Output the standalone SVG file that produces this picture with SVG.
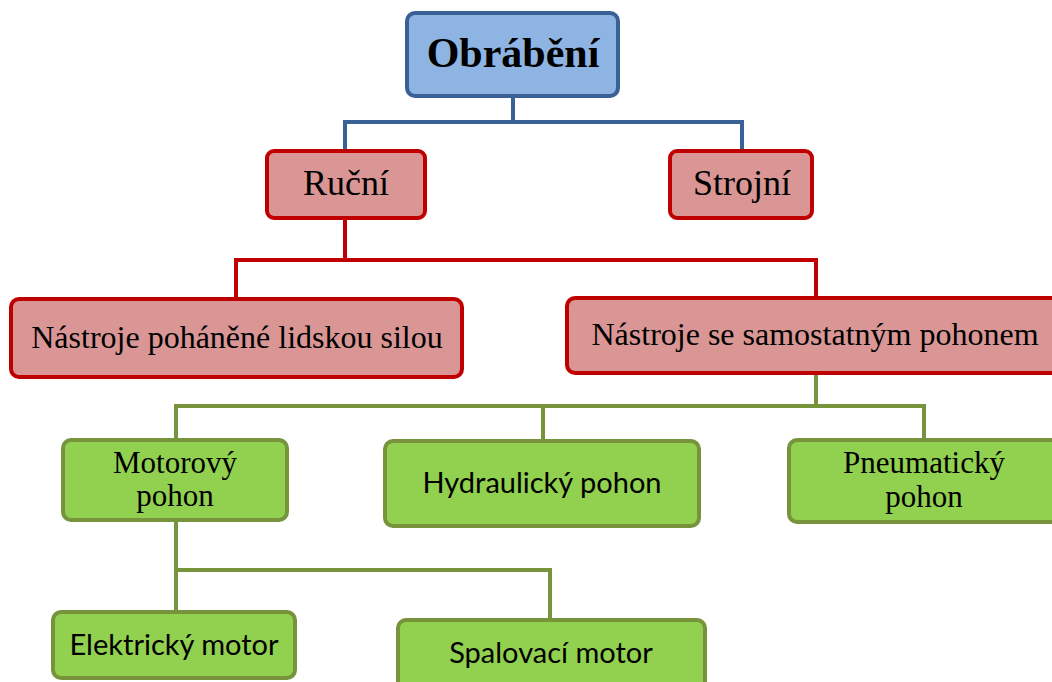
<svg xmlns="http://www.w3.org/2000/svg" width="1052" height="682" viewBox="0 0 1052 682">
<style>
.blue{fill:#8EB4E3;stroke:#3A6195;stroke-width:4}
.red{fill:#D99694;stroke:#C00000;stroke-width:4}
.green{fill:#92D050;stroke:#77933C;stroke-width:4}
.serif{font-family:"Liberation Serif","Times New Roman",serif;fill:#000;text-anchor:middle}
.sans{font-family:Lato,"Liberation Sans",sans-serif;fill:#000;text-anchor:middle}
.conn path{fill:none;stroke-width:4;stroke-linejoin:miter}
</style>
<rect width="1052" height="682" fill="#fff"/>
<g class="conn">
<path d="M513 97 V122 H345 V151 M513 122 H742 V151" stroke="#3A6195"/>
<path d="M345 218 V260 H236 V299 M345 260 H816 V298" stroke="#C00000"/>
<path d="M816 373 V406 H176 V440 M543 406 V441 M816 406 H924 V440" stroke="#77933C"/>
<path d="M176 520 V570 H550 V620 M176 570 V612" stroke="#77933C"/>
</g>
<g id="obrabeni"><rect class="blue" x="407" y="13" width="211" height="83" rx="8"/><text class="serif" x="513" y="67" font-size="42" font-weight="bold">Obrábění</text></g>
<g id="rucni"><rect class="red" x="267" y="151" width="158" height="67" rx="7"/><text class="serif" x="346" y="195" font-size="36">Ruční</text></g>
<g id="strojni"><rect class="red" x="670" y="151" width="142" height="67" rx="7"/><text class="serif" x="742" y="195" font-size="36">Strojní</text></g>
<g id="nastroje-lidska"><rect class="red" x="11" y="299" width="451" height="78" rx="8"/><text class="serif" x="237" y="348" font-size="32">Nástroje poháněné lidskou silou</text></g>
<g id="nastroje-pohon"><rect class="red" x="567" y="298" width="495" height="75" rx="8"/><text class="serif" x="815" y="345" font-size="32">Nástroje se samostatným pohonem</text></g>
<g id="motorovy"><rect class="green" x="63" y="440" width="224" height="80" rx="8"/><text class="serif" x="175" y="473" font-size="31">Motorový</text><text class="serif" x="175" y="506" font-size="31">pohon</text></g>
<g id="hydraulicky"><rect class="green" x="385" y="441" width="314" height="85" rx="8"/><text class="sans" x="542" y="493" font-size="29">Hydraulický pohon</text></g>
<g id="pneumaticky"><rect class="green" x="789" y="440" width="275" height="82" rx="8"/><text class="serif" x="924" y="473" font-size="31">Pneumatický</text><text class="serif" x="924" y="507" font-size="31">pohon</text></g>
<g id="elektricky"><rect class="green" x="53" y="612" width="242" height="66" rx="8"/><text class="sans" x="174" y="655" font-size="29">Elektrický motor</text></g>
<g id="spalovaci"><rect class="green" x="398" y="620" width="307" height="75" rx="8"/><text class="sans" x="551" y="663" font-size="29">Spalovací motor</text></g>
</svg>
